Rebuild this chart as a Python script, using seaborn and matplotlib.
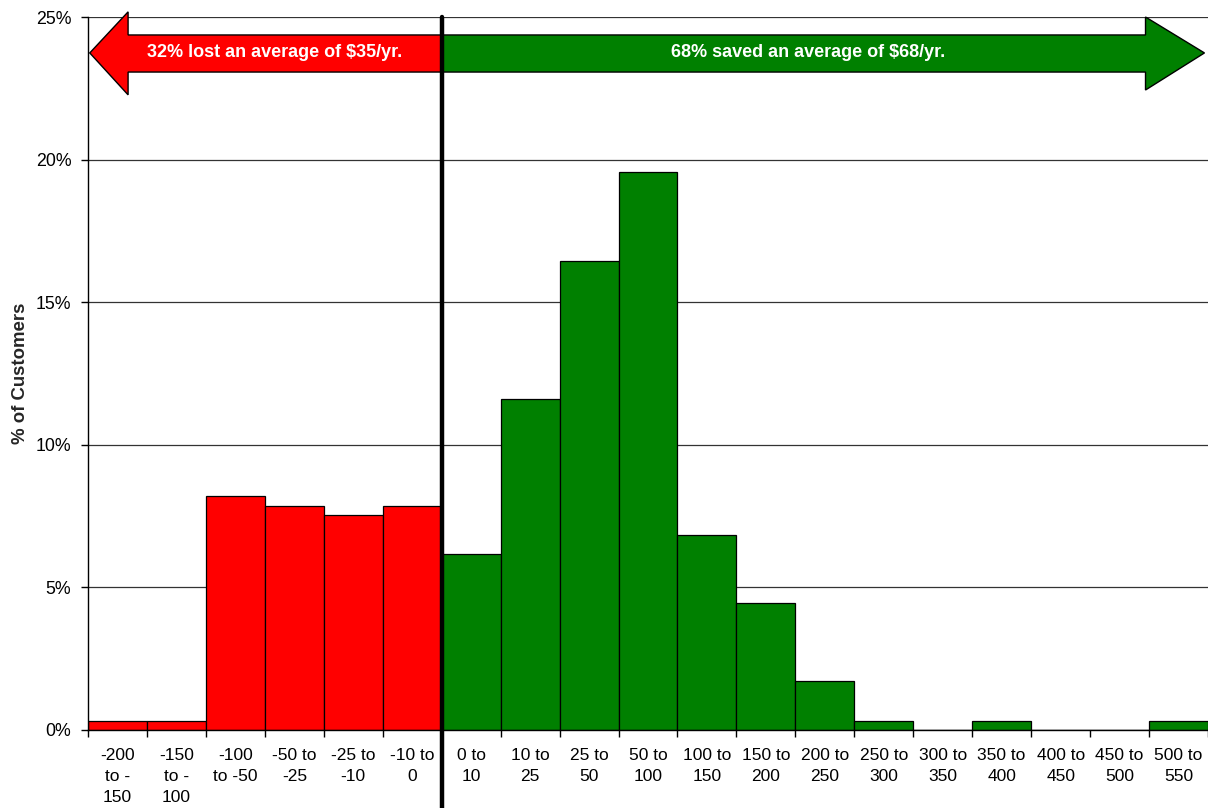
import matplotlib
matplotlib.use("Agg")
import matplotlib.pyplot as plt
from matplotlib.patches import Polygon
from matplotlib.ticker import FuncFormatter, MultipleLocator
import seaborn as sns
import pandas as pd

# Annual bill change ranges ($/yr) and share of customers in each
ranges = ["-200\nto -\n150", "-150\nto -\n100", "-100\nto -50", "-50 to\n-25",
          "-25 to\n-10", "-10 to\n0", "0 to\n10", "10 to\n25", "25 to\n50",
          "50 to\n100", "100 to\n150", "150 to\n200", "200 to\n250",
          "250 to\n300", "300 to\n350", "350 to\n400", "400 to\n450",
          "450 to\n500", "500 to\n550"]
pct_customers = [0.3, 0.3, 8.22, 7.86, 7.54, 7.86, 6.18, 11.62, 16.44, 19.55,
                 6.85, 4.45, 1.71, 0.3, 0.0, 0.3, 0.0, 0.0, 0.3]
n_losing = 6  # first bins are customers whose bill went up

loss_text = "32% lost an average of $35/yr."
save_text = "68% saved an average of $68/yr."

RED = "#FF0000"
GREEN = "#008000"
colors = [RED] * n_losing + [GREEN] * (len(ranges) - n_losing)

sns.set_theme(style="white")
plt.rcParams["font.family"] = ["Liberation Sans", "DejaVu Sans"]

df = pd.DataFrame({"range": ranges, "pct": pct_customers})

fig = plt.figure(figsize=(12.08, 8.08), dpi=100)
ax = fig.add_axes([88 / 1208, 78 / 808, 1120 / 1208, 713 / 808])

sns.barplot(data=df, x="range", y="pct", hue="range", palette=colors,
            legend=False, width=1.0, edgecolor="black", linewidth=0.9,
            saturation=1, ax=ax, zorder=2)

ax.set_xlim(-0.5, len(ranges) - 0.5)
ax.set_ylim(0, 25)
ax.yaxis.set_major_locator(MultipleLocator(5))
ax.yaxis.set_major_formatter(FuncFormatter(lambda v, _: f"{v:.0f}%"))
ax.grid(axis="y", color="#333333", linewidth=0.9, zorder=0)
ax.grid(axis="x", visible=False)
ax.set_axisbelow(True)

for side in ("top", "right"):
    ax.spines[side].set_visible(False)
for side in ("left", "bottom"):
    ax.spines[side].set_color("black")
    ax.spines[side].set_linewidth(1.0)

ax.set_xlabel("")
ax.set_ylabel("% of Customers", fontsize=13.4, fontweight="bold", labelpad=5)

# category labels under bars, tick marks on bin boundaries
ax.set_xticks(range(len(ranges)))
ax.set_xticklabels(ranges, fontsize=12.5, linespacing=1.5, va="top")
ax.tick_params(axis="x", which="major", length=0, pad=13, colors="black")
ax.set_xticks([i + 0.5 for i in range(-1, len(ranges))], minor=True)
ax.tick_params(axis="x", which="minor", length=5, width=1, color="black",
               direction="out", bottom=True)
ax.tick_params(axis="y", length=5, width=1, color="black", direction="out",
               left=True, pad=7, labelsize=12.8, labelcolor="black")

# divider between losses and savings
split = n_losing - 0.5
ax.axvline(split, ymin=-0.2, ymax=1.0, color="black", linewidth=3.2,
           clip_on=False, zorder=6)

# banner arrows
y_mid, y_shaft_top, y_shaft_bot = 23.74, 24.37, 23.07
loss_arrow = Polygon([(-0.47, y_mid), (0.18, 25.18), (0.18, y_shaft_top),
                      (split, y_shaft_top), (split, y_shaft_bot),
                      (0.18, y_shaft_bot), (0.18, 22.27)],
                     closed=True, facecolor=RED, edgecolor="black",
                     linewidth=1.0, clip_on=False, zorder=5)
save_arrow = Polygon([(split, y_shaft_top), (17.44, y_shaft_top), (17.44, 25.0),
                      (18.44, y_mid), (17.44, 22.44), (17.44, y_shaft_bot),
                      (split, y_shaft_bot)],
                     closed=True, facecolor=GREEN, edgecolor="black",
                     linewidth=1.0, clip_on=False, zorder=5)
ax.add_patch(loss_arrow)
ax.add_patch(save_arrow)
ax.text(2.66, y_mid, loss_text, color="white", fontsize=13,
        fontweight="bold", ha="center", va="center", zorder=7)
ax.text(11.72, y_mid, save_text, color="white", fontsize=13,
        fontweight="bold", ha="center", va="center", zorder=7)

fig.savefig("out.png", dpi=100, facecolor="white")
